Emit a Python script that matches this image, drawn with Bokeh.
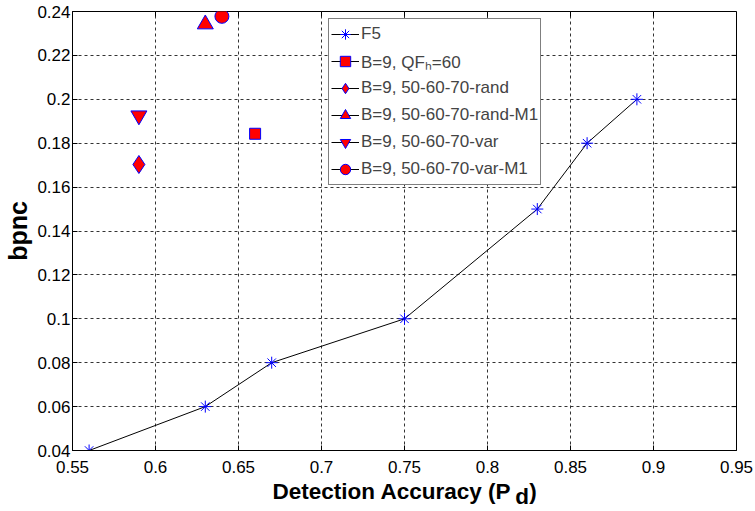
import math
from bokeh.plotting import figure
from bokeh.models import FixedTicker, Legend, LegendItem, LinearAxis
from bokeh.embed import file_html
from bokeh.resources import INLINE

# ---- data ----
x_ticks = [0.55, 0.6, 0.65, 0.7, 0.75, 0.8, 0.85, 0.9, 0.95]
x_tick_labels = ["0.55", "0.6", "0.65", "0.7", "0.75", "0.8", "0.85", "0.9", "0.95"]
y_ticks = [0.04, 0.06, 0.08, 0.1, 0.12, 0.14, 0.16, 0.18, 0.2, 0.22, 0.24]
y_tick_labels = ["0.04", "0.06", "0.08", "0.1", "0.12", "0.14", "0.16", "0.18", "0.2", "0.22", "0.24"]

f5_x = [0.56, 0.63, 0.67, 0.75, 0.83, 0.86, 0.89]
f5_y = [0.04, 0.06, 0.08, 0.10, 0.15, 0.18, 0.20]
qf_x = [0.66]
qf_y = [0.1843]
rand_x = [0.59]
rand_y = [0.1703]
randm1_x = [0.63]
randm1_y = [0.2342]
var_x = [0.59]
var_y = [0.1926]
varm1_x = [0.64]
varm1_y = [0.2378]

labels = ["F5", "B=9, QF\u2095=60", "B=9, 50-60-70-rand", "B=9, 50-60-70-rand-M1",
          "B=9, 50-60-70-var", "B=9, 50-60-70-var-M1"]
x_title_main = "Detection Accuracy (P"
x_title_sub = "d"
x_title_end = ")"
y_title = "bpnc"

FONT = "Liberation Sans"
X0, X1 = 0.55, 0.95
FRAME_LEFT, FRAME_W = 72, 664   # page pixels of the plot frame

def px_to_x(px):
    # horizontal page pixel -> x value (used only to place the title pieces)
    return X0 + (px - FRAME_LEFT) / FRAME_W * (X1 - X0)

p = figure(width=755, height=511, x_range=(X0, X1), y_range=(0.04, 0.24),
           output_backend="svg", toolbar_location=None,
           min_border_left=72, min_border_right=19, min_border_top=11, min_border_bottom=60)
p.background_fill_color = "white"
p.border_fill_color = "white"
p.outline_line_color = "black"
p.outline_line_width = 1

for ax, ticks, labs in ((p.xaxis[0], x_ticks, x_tick_labels), (p.yaxis[0], y_ticks, y_tick_labels)):
    ax.ticker = FixedTicker(ticks=ticks)
    ax.major_label_overrides = dict(zip(ticks, labs))
    ax.major_label_text_font = FONT
    ax.major_label_text_font_size = "17px"
    ax.major_label_text_color = "black"
    ax.major_tick_in = 5
    ax.major_tick_out = 0
    ax.minor_tick_line_color = None
    ax.axis_line_color = "black"
    ax.major_tick_line_color = "black"
p.xaxis.major_label_standoff = 10
p.yaxis.major_label_standoff = 2

p.yaxis.axis_label = y_title
p.yaxis.axis_label_text_font = FONT
p.yaxis.axis_label_text_font_style = "bold"
p.yaxis.axis_label_text_font_size = "25px"
p.yaxis.axis_label_text_color = "black"
p.yaxis.axis_label_standoff = 2

# x title: pieces placed as labels of extra, invisible axes below the main one
def title_axis(positions, texts, standoff, tick_out=0):
    ax = LinearAxis(ticker=FixedTicker(ticks=positions),
                    major_label_overrides=dict(zip(positions, texts)),
                    major_label_text_font=FONT, major_label_text_font_style="bold",
                    major_label_text_font_size="22.5px", major_label_text_color="black",
                    major_label_standoff=standoff, major_tick_in=0, major_tick_out=tick_out,
                    major_tick_line_color=None, minor_tick_line_color=None,
                    axis_line_color=None)
    p.add_layout(ax, "below")
    return ax

pos_main = px_to_x(391.5)
pos_end = px_to_x(532.5)
pos_sub = px_to_x(521.5)
title_axis([pos_main, pos_end], [x_title_main, x_title_end], 3)
title_axis([pos_sub], [x_title_sub], -23)
title_axis([], [], 0, tick_out=-6)

p.grid.grid_line_color = "#333333"
p.grid.grid_line_dash = "3 3"
p.grid.grid_line_width = 1
p.xgrid.ticker = FixedTicker(ticks=x_ticks)
p.ygrid.ticker = FixedTicker(ticks=y_ticks)

# tick marks on the top and right edges of the box
p.ray(x=x_ticks, y=[0.24] * len(x_ticks), length=5, length_units="screen",
      angle=-math.pi / 2, line_color="black", line_width=1)
p.ray(x=[0.95] * len(y_ticks), y=y_ticks, length=5, length_units="screen",
      angle=math.pi, line_color="black", line_width=1)

# series
f5_line = p.line(f5_x, f5_y, line_color="black", line_width=1)
f5_mk = p.scatter(f5_x, f5_y, marker="asterisk", size=12, line_color="blue", line_width=1)

def single(xs, ys, marker, size):
    ln = p.line(xs, ys, line_color="black", line_width=1)
    mk = p.scatter(xs, ys, marker=marker, size=size, fill_color="red",
                   line_color="blue", line_width=1)
    return [ln, mk]

r_qf = single(qf_x, qf_y, "square", 11)
r_rand = single(rand_x, rand_y, "diamond", 18)
r_randm1 = single(randm1_x, randm1_y, "triangle", 16)
r_var = single(var_x, var_y, "inverted_triangle", 16)
r_varm1 = single(varm1_x, varm1_y, "circle", 14)

items = [LegendItem(label=labels[0], renderers=[f5_line, f5_mk]),
         LegendItem(label=labels[1], renderers=r_qf),
         LegendItem(label=labels[2], renderers=r_rand),
         LegendItem(label=labels[3], renderers=r_randm1),
         LegendItem(label=labels[4], renderers=r_var),
         LegendItem(label=labels[5], renderers=r_varm1)]
legend = Legend(items=items, location=(256, 265), margin=0, padding=2, spacing=1,
                glyph_width=28, glyph_height=26, label_height=26, label_standoff=2,
                label_text_font=FONT, label_text_font_size="17px",
                border_line_color="black", border_line_width=1,
                background_fill_color="white", background_fill_alpha=1)
p.add_layout(legend)

open("out.html", "w").write(file_html(p, INLINE))
